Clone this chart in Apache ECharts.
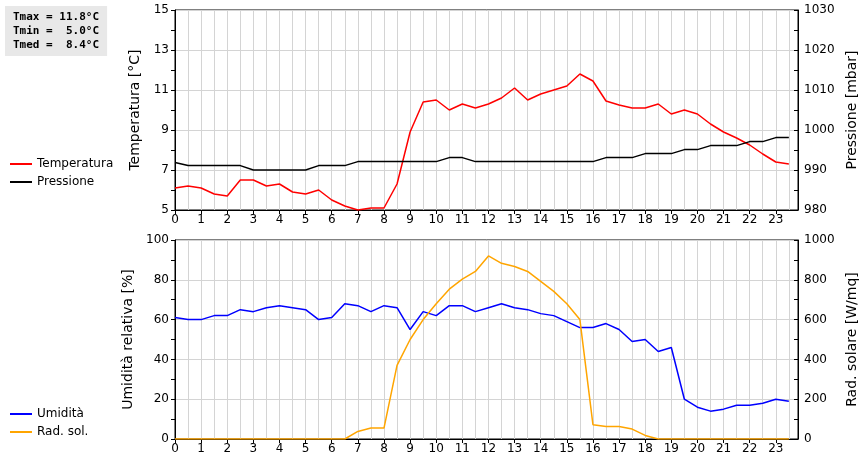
<!DOCTYPE html>
<html>
<head>
<meta charset="utf-8">
<script src="https://cdn.jsdelivr.net/npm/echarts@6/dist/echarts.min.js"></script>
<style>
    body { margin: 0; background: #fff; }
    #chart { width: 860px; height: 460px; }
</style>
</head>
<body>
<div id="chart"></div>
<script>

// dati a mezz'ora
const hours = Array.from({ length: 48 }, (_, i) => i / 2);

const temperatura = [6.1, 6.2, 6.1, 5.8, 5.7, 6.5, 6.5, 6.2, 6.3, 5.9, 5.8, 6.0, 5.5, 5.2, 5.0, 5.1, 5.1, 6.3, 8.9, 10.4, 10.5, 10.0, 10.3, 10.1, 10.3, 10.6, 11.1, 10.5, 10.8, 11.0, 11.2, 11.8, 11.45, 10.45, 10.25, 10.1, 10.1, 10.3, 9.8, 10.0, 9.8, 9.3, 8.9, 8.6, 8.25, 7.8, 7.4, 7.3];
const pressione = [991.9, 991.1, 991.1, 991.1, 991.1, 991.1, 990, 990, 990, 990, 990, 991.1, 991.1, 991.1, 992.1, 992.1, 992.1, 992.1, 992.1, 992.1, 992.1, 993.1, 993.1, 992.1, 992.1, 992.1, 992.1, 992.1, 992.1, 992.1, 992.1, 992.1, 992.1, 993.1, 993.1, 993.1, 994.1, 994.1, 994.1, 995.1, 995.1, 996.1, 996.1, 996.1, 997.1, 997.1, 998.1, 998.1];
const umidita = [61, 60, 60, 62, 62, 65, 64, 66, 67, 66, 65, 60, 61, 68, 67, 64, 67, 66, 55, 64, 62, 67, 67, 64, 66, 68, 66, 65, 63, 62, 59, 56, 56, 58, 55, 49, 50, 44, 46, 20, 16, 14, 15, 17, 17, 18, 20, 19];
const radSolare = [0, 0, 0, 0, 0, 0, 0, 0, 0, 0, 0, 0, 0, 0, 38, 55, 55, 370, 500, 600, 680, 753, 803, 842, 920, 883, 867, 842, 792, 742, 680, 600, 72, 63, 63, 50, 18, 0, 0, 0, 0, 0, 0, 0, 0, 0, 0, 0];

const statsText = ['Tmax = 11.8°C', 'Tmin =  5.0°C', 'Tmed =  8.4°C'];

const pair = (arr) => hours.map((h, i) => [h, arr[i]]);

const chart = echarts.init(document.getElementById('chart'));

const axisText = { color: '#000', fontSize: 12, fontFamily: 'DejaVu Sans' };

function xAxisOpt(gridIndex) {
    return {
        type: 'value', gridIndex, min: 0, max: 23.85, interval: 1,
        axisLine: { onZero: false, lineStyle: { color: '#000' } },
        axisTick: { length: 4, lineStyle: { color: '#000' } },
        axisLabel: { ...axisText, showMaxLabel: false, margin: 4 },
        splitLine: { show: true, lineStyle: { color: '#d4d4d4' } },
        minorTick: { show: false, splitNumber: 2 },
        minorSplitLine: { show: true, lineStyle: { color: '#d4d4d4' } }
    };
}

function yAxisOpt(gridIndex, position, min, max, interval, name, grid) {
    return {
        type: 'value', gridIndex, position, min, max, interval, name,
        nameLocation: 'middle', nameGap: position === 'left' ? 32 : 42,
        nameTextStyle: { ...axisText, fontSize: 14 },
        axisLine: { show: true, lineStyle: { color: '#000' } },
        axisTick: { show: true, inside: position === 'right', length: 4, lineStyle: { color: '#000' } },
        minorTick: { show: true, splitNumber: 2, length: 4, lineStyle: { color: '#000' } },
        axisLabel: { ...axisText, margin: 6, formatter: (v) => String(v) },
        splitLine: { show: grid, lineStyle: { color: '#d4d4d4' } }
    };
}

const lineSeries = (name, data, color, xi, yi) => ({
    name, type: 'line', data: pair(data), xAxisIndex: xi, yAxisIndex: yi,
    showSymbol: false, lineStyle: { color, width: 1.5 }, itemStyle: { color },
    animation: false
});

const option = {
    backgroundColor: '#fff',
    graphic: [{
        type: 'text', left: 5, top: 6,
        style: {
            text: statsText.join('\n'),
            font: 'bold 11px "DejaVu Sans Mono"',
            fill: '#000', backgroundColor: '#e8e8e8',
            padding: [4, 8, 4, 8], lineHeight: 14
        }
    }],
    legend: [
        {
            data: ['Temperatura', 'Pressione'], orient: 'vertical', left: 5, top: 153,
            icon: 'rect', itemWidth: 22, itemHeight: 2, itemGap: 6,
            textStyle: { ...axisText, fontSize: 12 }
        },
        {
            data: ['Umidità', 'Rad. sol.'], orient: 'vertical', left: 5, top: 403,
            icon: 'rect', itemWidth: 22, itemHeight: 2, itemGap: 6,
            textStyle: { ...axisText, fontSize: 12 }
        }
    ],
    grid: [
        { left: 175, right: 62, top: 10, height: 200, show: true, borderColor: '#000', backgroundColor: 'transparent', outerBoundsMode: 'none', containLabel: false },
        { left: 175, right: 62, top: 240, height: 199, show: true, borderColor: '#000', backgroundColor: 'transparent', outerBoundsMode: 'none', containLabel: false }
    ],
    xAxis: [xAxisOpt(0), xAxisOpt(1)],
    yAxis: [
        yAxisOpt(0, 'left', 5, 15, 2, 'Temperatura [°C]', true),
        yAxisOpt(0, 'right', 980, 1030, 10, 'Pressione [mbar]', false),
        yAxisOpt(1, 'left', 0, 100, 20, 'Umidità relativa [%]', true),
        yAxisOpt(1, 'right', 0, 1000, 200, 'Rad. solare [W/mq]', false)
    ],
    series: [
        lineSeries('Temperatura', temperatura, '#ff0000', 0, 0),
        lineSeries('Pressione', pressione, '#000000', 0, 1),
        lineSeries('Umidità', umidita, '#0000ff', 1, 2),
        lineSeries('Rad. sol.', radSolare, '#ffa500', 1, 3)
    ]
};

chart.setOption(option);
</script>
</body>
</html>
